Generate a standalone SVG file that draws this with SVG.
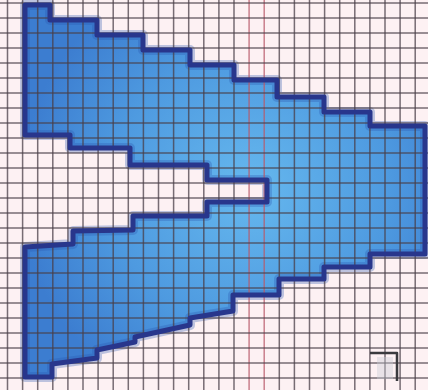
<svg xmlns="http://www.w3.org/2000/svg" width="428" height="390" viewBox="0 0 428 390">
  <style>
    .grid { fill: none; stroke: #4a3f48; stroke-width: 1.5; stroke-opacity: 0.75; }
    .gridred { fill: none; stroke: #b85a6a; stroke-width: 1.5; stroke-opacity: 0.75; }
    .halo { fill: none; stroke: #2b55b0; stroke-width: 10; stroke-opacity: 0.3; stroke-linejoin: round; }
    .outline { fill: none; stroke: #28368c; stroke-width: 5; stroke-linejoin: round; }
    .mark { fill: none; stroke: #3a3a3e; stroke-width: 2.5; stroke-linejoin: round; }
  </style>
  <defs>
    <radialGradient id="blue" cx="250" cy="190" r="230" gradientUnits="userSpaceOnUse">
      <stop offset="0" stop-color="#66b8ee"/>
      <stop offset="0.6" stop-color="#4e9ae0"/>
      <stop offset="1" stop-color="#3c7dd0"/>
    </radialGradient>
    <path id="shapePath" d="M25,5 H50 V20 H97 V35 H143 V50 H190 V65 H234 V80 H277 V97 H324 V112 H370 V126 H425 V254 H370 V267 H324 V279 H279 V295 H233 V311 L190,318 V325 L135,337 V342 L97,350 V358 L52,364 V377 H25 V247 L73,244 V231 L133,230 V216 H207 V202 H267 V180 H207 V165 H130 V148 H70 V135 H25 Z"/>
  </defs>
  <rect id="paper" x="0" y="0" width="428" height="390" fill="#fdf1f3"/>
  <g id="fill">
    <use href="#shapePath" fill="url(#blue)"/>
    <use href="#shapePath" class="halo"/>
  </g>
  <g id="grid">
    <path class="grid" d="M7.5,0V390 M22.6,0V390 M37.7,0V390 M52.8,0V390 M67.9,0V390 M83,0V390 M98.1,0V390 M113.2,0V390 M128.3,0V390 M143.4,0V390 M158.5,0V390 M173.6,0V390 M188.7,0V390 M203.8,0V390 M218.9,0V390 M234,0V390 M279.3,0V390 M294.4,0V390 M309.5,0V390 M324.6,0V390 M339.7,0V390 M354.8,0V390 M369.9,0V390 M385,0V390 M400.1,0V390 M415.2,0V390"/>
    <path class="gridred" d="M249.1,0V390 M264.2,0V390"/>
    <path class="grid" d="M0,3H428 M0,18H428 M0,33H428 M0,48H428 M0,63H428 M0,78H428 M0,93H428 M0,108H428 M0,123H428 M0,138H428 M0,153H428 M0,168H428 M0,183H428 M0,198H428 M0,213H428 M0,228H428 M0,243H428 M0,258H428 M0,273H428 M0,288H428 M0,303H428 M0,318H428 M0,333H428 M0,348H428 M0,363H428 M0,378H428"/>
  </g>
  <g id="outline">
    <use href="#shapePath" class="outline"/>
  </g>
  <g id="corner-mark">
    <rect x="377" y="357" width="16" height="22" fill="#c8ced4" fill-opacity="0.4"/>
    <path class="mark" d="M370,353 H397 V381"/>
  </g>
</svg>
